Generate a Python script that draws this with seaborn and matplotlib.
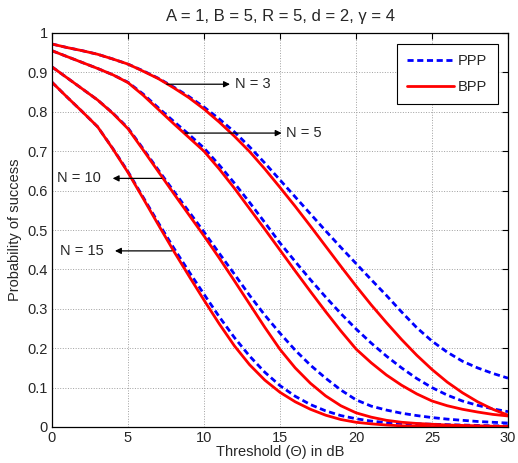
import numpy as np
import pandas as pd
import matplotlib
matplotlib.use('Agg')
import matplotlib.pyplot as plt
import seaborn as sns

# Values (threshold in dB, 1 dB steps)
theta_db = list(range(0, 31))

ppp_n3 = [0.972, 0.963, 0.955, 0.946, 0.934, 0.921, 0.904, 0.885, 0.863, 0.839,
          0.812, 0.782, 0.749, 0.711, 0.670, 0.627, 0.584, 0.541, 0.498, 0.456,
          0.415, 0.374, 0.334, 0.292, 0.252, 0.218, 0.190, 0.167, 0.150, 0.136, 0.124]
bpp_n3 = [0.972, 0.963, 0.955, 0.946, 0.934, 0.921, 0.903, 0.884, 0.861, 0.836,
          0.807, 0.774, 0.738, 0.699, 0.655, 0.608, 0.560, 0.510, 0.459, 0.408,
          0.358, 0.310, 0.265, 0.222, 0.182, 0.146, 0.114, 0.087, 0.064, 0.045, 0.030]
ppp_n5 = [0.955, 0.940, 0.925, 0.910, 0.894, 0.875, 0.845, 0.810, 0.776, 0.743,
          0.708, 0.665, 0.619, 0.570, 0.519, 0.467, 0.420, 0.374, 0.330, 0.288,
          0.249, 0.213, 0.180, 0.150, 0.123, 0.100, 0.081, 0.066, 0.055, 0.046, 0.039]
bpp_n5 = [0.955, 0.940, 0.925, 0.910, 0.894, 0.874, 0.842, 0.806, 0.770, 0.735,
          0.700, 0.655, 0.606, 0.554, 0.502, 0.449, 0.396, 0.344, 0.293, 0.244,
          0.198, 0.163, 0.132, 0.106, 0.084, 0.066, 0.054, 0.045, 0.038, 0.032, 0.028]
ppp_n10 = [0.914, 0.886, 0.858, 0.830, 0.797, 0.759, 0.706, 0.652, 0.599, 0.547,
           0.495, 0.441, 0.388, 0.334, 0.284, 0.238, 0.195, 0.157, 0.124, 0.094,
           0.069, 0.053, 0.043, 0.035, 0.029, 0.024, 0.020, 0.017, 0.014, 0.012, 0.010]
bpp_n10 = [0.914, 0.886, 0.858, 0.830, 0.796, 0.757, 0.703, 0.648, 0.593, 0.539,
           0.485, 0.429, 0.371, 0.312, 0.253, 0.197, 0.150, 0.111, 0.079, 0.054,
           0.036, 0.025, 0.017, 0.012, 0.009, 0.007, 0.005, 0.004, 0.003, 0.002, 0.001]
ppp_n15 = [0.875, 0.837, 0.800, 0.762, 0.707, 0.648, 0.583, 0.518, 0.455, 0.395,
           0.337, 0.280, 0.227, 0.180, 0.139, 0.105, 0.078, 0.057, 0.041, 0.029,
           0.021, 0.015, 0.011, 0.009, 0.008, 0.007, 0.006, 0.005, 0.004, 0.003, 0.003]
bpp_n15 = [0.875, 0.837, 0.800, 0.762, 0.706, 0.646, 0.580, 0.513, 0.447, 0.384,
           0.322, 0.262, 0.206, 0.158, 0.119, 0.088, 0.064, 0.045, 0.030, 0.019,
           0.012, 0.008, 0.005, 0.003, 0.002, 0.001, 0.001, 0.000, 0.000, 0.000, 0.000]

n_values = [3, 5, 10, 15]
ppp_curves = [ppp_n3, ppp_n5, ppp_n10, ppp_n15]
bpp_curves = [bpp_n3, bpp_n5, bpp_n10, bpp_n15]

x_ticks = [0, 5, 10, 15, 20, 25, 30]
y_ticks = [0, 0.1, 0.2, 0.3, 0.4, 0.5, 0.6, 0.7, 0.8, 0.9, 1]
y_tick_labels = ['0', '0.1', '0.2', '0.3', '0.4', '0.5', '0.6', '0.7', '0.8', '0.9', '1']

# label text, arrow tail (x, y), arrow head (x, y)
labels = ['N = 3', 'N = 5', 'N = 10', 'N = 15']
arrow_tails = [(7.55, 0.870), (8.75, 0.746), (7.22, 0.631), (7.88, 0.447)]
arrow_heads = [(11.71, 0.870), (15.11, 0.746), (3.99, 0.631), (4.14, 0.447)]

sns.set_style('white')
plt.rcParams['font.family'] = ['Liberation Sans', 'DejaVu Sans']
plt.rcParams['font.size'] = 10

fig = plt.figure(figsize=(5.18, 4.63), dpi=100)
ax = fig.add_axes([52 / 518, 1 - 427 / 463, 456 / 518, 394 / 463])

# PPP first so the BPP lines sit on top, as in the original
for i, n in enumerate(n_values):
    df = pd.DataFrame({'theta': theta_db, 'ppp': ppp_curves[i]})
    sns.lineplot(data=df, x='theta', y='ppp', ax=ax, color='#0000ff', lw=2.0,
                 label='PPP' if i == 0 else None, linestyle=(0, (2.2, 1.3)))
for i, n in enumerate(n_values):
    df = pd.DataFrame({'theta': theta_db, 'bpp': bpp_curves[i]})
    sns.lineplot(data=df, x='theta', y='bpp', ax=ax, color='#ff0000', lw=2.0,
                 label='BPP' if i == 0 else None)

# annotations
for text, tail, head in zip(labels, arrow_tails, arrow_heads):
    ax.annotate('', xy=head, xytext=tail,
                arrowprops=dict(arrowstyle='-|>', color='black', lw=0.9,
                                mutation_scale=9, shrinkA=0, shrinkB=0))
    if head[0] > tail[0]:
        ax.text(head[0] + 0.3, head[1], text, ha='left', va='center', fontsize=10.5)
    else:
        ax.text(head[0] - 0.75, head[1], text, ha='right', va='center', fontsize=10.5)

ax.set_xlim(0, 30)
ax.set_ylim(0, 1)
ax.set_xticks(x_ticks)
ax.set_yticks(y_ticks)
ax.set_yticklabels(y_tick_labels)
ax.grid(True, linestyle=':', color='#a0a0a0', linewidth=0.7)
ax.tick_params(direction='in', top=True, right=True, length=4, width=0.8,
               labelsize=10.5, pad=3, color='black')
for sp in ax.spines.values():
    sp.set_color('black')
    sp.set_linewidth(0.9)

ax.set_xlabel('Threshold (\u0398) in dB', fontsize=10.5, labelpad=0)
ax.set_ylabel('Probability of success', fontsize=10.5, labelpad=4)
ax.set_title('A = 1, B = 5, R = 5, d = 2, \u03b3 = 4', fontsize=12, pad=9)

leg = ax.legend(loc='upper right', frameon=True, fancybox=False, fontsize=10.5,
                handlelength=3.2, borderpad=0.7, labelspacing=0.85,
                borderaxespad=0.72, handletextpad=0.3)
leg.get_frame().set_edgecolor('black')
leg.get_frame().set_linewidth(0.8)
leg.get_frame().set_alpha(1)

fig.savefig('out.png', dpi=100)
plt.close(fig)
